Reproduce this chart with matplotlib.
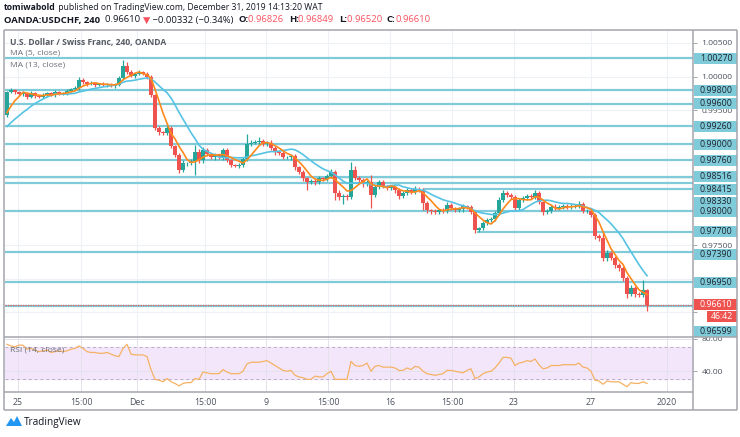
import numpy as np
import matplotlib.pyplot as plt
from matplotlib.patches import Rectangle, Polygon

plt.rcParams['font.family'] = ['Open Sans', 'DejaVu Sans']

# USDCHF 4h candles (OANDA), 25 Nov - 31 Dec 2019
first_open = 0.99431
closes = [
    0.99772, 0.99802, 0.99772, 0.99743, 0.99757, 0.99698, 0.99757, 0.99713, 0.99698, 0.99728,
    0.99757, 0.99728, 0.99772, 0.99743, 0.99757, 0.99787, 0.99817, 0.99832, 0.99950, 0.99921,
    0.99891, 0.99906, 0.99876, 0.99891, 0.99876, 0.99891, 0.99861, 0.99876, 0.99980, 1.00158,
    1.00069, 1.00010, 1.00040, 1.00069, 1.00040, 0.99995, 0.99728, 0.99238, 0.99178, 0.99163,
    0.99238, 0.98970, 0.98837, 0.98614, 0.98718, 0.98718, 0.98747, 0.98881, 0.98762, 0.98911,
    0.98851, 0.98807, 0.98837, 0.98807, 0.98911, 0.98762, 0.98688, 0.98673, 0.98688, 0.98777,
    0.99000, 0.99015, 0.99030, 0.99044, 0.99000, 0.99015, 0.98941, 0.98881, 0.98866, 0.98807,
    0.98807, 0.98822, 0.98658, 0.98584, 0.98495, 0.98436, 0.98450, 0.98436, 0.98495, 0.98480,
    0.98525, 0.98584, 0.98272, 0.98213, 0.98228, 0.98213, 0.98614, 0.98495, 0.98465, 0.98406,
    0.98436, 0.98242, 0.98361, 0.98436, 0.98376, 0.98346, 0.98361, 0.98317, 0.98228, 0.98272,
    0.98317, 0.98287, 0.98332, 0.98317, 0.98124, 0.98020, 0.98005, 0.97990, 0.98020, 0.98005,
    0.98094, 0.98049, 0.98020, 0.98035, 0.98079, 0.98064, 0.97990, 0.97723, 0.97752, 0.97827,
    0.97871, 0.97886, 0.97975, 0.98168, 0.98272, 0.98242, 0.98213, 0.98049, 0.98168, 0.98198,
    0.98228, 0.98213, 0.98272, 0.98139, 0.97990, 0.98005, 0.98064, 0.98049, 0.98064, 0.98079,
    0.98064, 0.98079, 0.98079, 0.98109, 0.98005, 0.98005, 0.97945, 0.97634, 0.97604, 0.97307,
    0.97381, 0.97307, 0.97203, 0.97158, 0.97010, 0.96772, 0.96861, 0.96772, 0.96757, 0.96826,
    0.96610]
# wick lengths in pips above / below the candle body
up_wick = [
    2, 3, 2, 2, 3, 2, 3, 2, 2, 3, 2, 2, 3, 2, 2, 3, 2, 3, 4, 3,
    2, 3, 2, 2, 3, 2, 2, 3, 3, 9, 6, 3, 2, 3, 2, 3, 3, 2, 3, 2,
    4, 3, 2, 3, 4, 2, 3, 10, 4, 4, 3, 2, 3, 2, 3, 3, 2, 2, 3, 3,
    15, 4, 3, 6, 3, 3, 4, 3, 2, 3, 2, 3, 3, 2, 3, 2, 3, 3, 3, 2,
    3, 4, 3, 4, 3, 3, 12, 6, 3, 3, 3, 10, 3, 3, 3, 2, 3, 2, 3, 3,
    3, 3, 4, 3, 3, 3, 2, 3, 2, 3, 4, 3, 2, 3, 3, 2, 3, 3, 2, 3,
    3, 3, 3, 4, 5, 3, 3, 3, 3, 3, 3, 3, 4, 3, 2, 3, 3, 4, 3, 3,
    3, 3, 3, 4, 3, 3, 3, 3, 3, 7, 4, 3, 3, 3, 3, 3, 4, 3, 3, 16,
    2.3]
down_wick = [
    3, 2, 3, 2, 3, 3, 2, 3, 2, 2, 3, 2, 3, 2, 2, 3, 2, 2, 3, 3,
    3, 2, 3, 2, 2, 3, 2, 3, 2, 3, 3, 2, 3, 2, 2, 3, 3, 3, 4, 3,
    3, 3, 3, 4, 3, 4, 3, 21, 4, 5, 3, 3, 4, 3, 4, 3, 3, 2, 3, 3,
    3, 3, 2, 3, 3, 3, 3, 4, 3, 3, 3, 4, 4, 3, 4, 12, 3, 4, 3, 3,
    3, 3, 10, 4, 10, 5, 3, 3, 3, 4, 3, 19, 3, 3, 3, 3, 3, 4, 4, 3,
    3, 3, 3, 3, 10, 4, 4, 3, 3, 3, 3, 3, 3, 3, 4, 3, 3, 4, 3, 3,
    3, 3, 3, 3, 3, 3, 3, 3, 3, 3, 3, 3, 3, 3, 4, 3, 3, 3, 3, 3,
    3, 3, 3, 3, 3, 3, 3, 4, 4, 4, 4, 3, 5, 4, 4, 6, 3, 4, 3, 3,
    9]
# closes just left of the visible window (only feed the moving averages)
warmup_closes = [0.9905, 0.9908, 0.9912, 0.9910, 0.9915, 0.9913, 0.9918, 0.9924,
                 0.9932, 0.9936, 0.9945, 0.9943]
rsi = [
    73, 71, 70, 72, 72, 67, 68, 66, 64, 65, 66, 63, 64, 65, 64, 65, 67, 68, 71, 68,
    64, 63, 63, 62, 62, 63, 61, 59, 58, 68, 73, 61, 60, 60, 60, 58, 42, 30, 29, 27,
    31, 27, 25, 22, 25, 26, 26, 31, 30, 39, 38, 37, 37, 37, 42, 39, 37, 37, 37, 40,
    49, 51, 51, 51, 52, 53, 50, 47, 44, 41, 40, 41, 35, 33, 32, 30, 30, 34, 33, 33,
    37, 40, 30, 30, 30, 30, 52, 47, 46, 47, 50, 40, 46, 47, 45, 45, 45, 44, 41, 41,
    44, 42, 46, 45, 40, 37, 36, 35, 36, 37, 41, 41, 40, 39, 38, 41, 43, 31, 33, 37,
    39, 40, 44, 50, 57, 57, 56, 47, 50, 51, 53, 52, 55, 48, 43, 44, 47, 47, 47, 48,
    48, 48, 48, 50, 45, 44, 40, 29, 28, 24, 28, 27, 27, 27, 24, 21, 26, 25, 25, 27,
    25]
levels = [1.00270, 0.99800, 0.99600, 0.99260, 0.99000, 0.98760, 0.98516, 0.98415,
          0.98330, 0.98000, 0.97700, 0.97390, 0.96950, 0.96599]
level_start = {0.98330: 104, 0.97700: 117.5}   # lines drawn from this bar onward
last_price = 0.96610
price_ticks = [0.965, 0.970, 0.975, 0.980, 0.985, 0.990, 0.995, 1.000, 1.005]
shown_ticks = [0.975, 0.995, 1.000, 1.005]      # the others sit under label boxes
tick_pos = [2.75, 18.5, 32.5, 49.5, 64.75, 80.25, 95.75, 111.25, 126.75, 146, 165]
tick_lab = ['25', '15:00', 'Dec', '15:00', '9', '15:00', '16', '15:00', '23', '27', '2020']

UP, DOWN = '#26a69a', '#ef5350'
LVL = '#80cbd9'
GRID = '#eef1f5'
TXT = '#4c525e'
W, H = 740, 437

c = np.array(closes)
o = np.concatenate([[first_open], c[:-1]])
hi = np.maximum(o, c) + np.array(up_wick) * 1e-4
lo = np.minimum(o, c) - np.array(down_wick) * 1e-4
x = np.arange(len(c))
n = len(c)
allc = np.array(warmup_closes + closes)
ma5 = np.convolve(allc, np.ones(5) / 5, 'valid')[-n:]
ma13 = np.convolve(allc, np.ones(13) / 13, 'valid')[-n:]

fig = plt.figure(figsize=(W / 100, H / 100), dpi=100, facecolor='white')
ax = fig.add_axes([5 / W, 1 - 337 / H, 688 / W, 307 / H])
ar = fig.add_axes([5 / W, 1 - 392 / H, 688 / W, 55 / H])

# ---- main pane
ax.set_xlim(-0.5, 171.5)
ax.set_ylim(0.96134, 1.00693)
for s in ax.spines.values():
    s.set_visible(False)
ax.yaxis.tick_right()
ax.set_yticks(price_ticks)
ax.set_yticklabels(['%.5f' % v if any(abs(v - t) < 1e-9 for t in shown_ticks) else ''
                    for v in price_ticks])
ax.tick_params(axis='y', length=3, width=0.6, color='#9598a1', labelsize=6.1,
               labelcolor=TXT, pad=3)
ax.set_xticks(tick_pos)
ax.tick_params(axis='x', length=0, labelbottom=False)
ax.grid(True, color=GRID, lw=0.8)
ax.set_axisbelow(True)

for lv in levels:
    ax.hlines(lv, level_start.get(lv, -0.5), 171.5, color=LVL, lw=1.6, zorder=2)
ax.axhline(last_price, color=DOWN, lw=0.9, ls=(0, (1, 1)), zorder=2)

cols = [UP if cc >= oo else DOWN for oo, cc in zip(o, c)]
ax.vlines(x, lo, hi, color=cols, lw=0.9, zorder=3)
body = np.maximum(np.abs(c - o), 0.00005)
ax.bar(x, body, bottom=np.minimum(o, c), width=0.8, color=cols, zorder=4)
ax.plot(x, ma13, color='#56c3e3', lw=1.2, zorder=5)
ax.plot(x, ma5, color='#ff8a1c', lw=1.2, zorder=5)

ax.text(5 / 688, 1 - 12 / 307, 'U.S. Dollar / Swiss Franc, 240, OANDA', transform=ax.transAxes,
        fontsize=6.1, fontweight='bold', color='#555a63', va='center')
ax.text(5 / 688, 1 - 23 / 307, 'MA (5, close)', transform=ax.transAxes,
        fontsize=6.1, color='#6b6f78', va='center')
ax.text(5 / 688, 1 - 35 / 307, 'MA (13, close)', transform=ax.transAxes,
        fontsize=6.1, color='#6b6f78', va='center')

# ---- RSI pane
ar.set_xlim(-0.5, 171.5)
ar.set_ylim(14.5, 82)
for s in ar.spines.values():
    s.set_visible(False)
ar.axhspan(30, 70, color='#f3e6fb', zorder=0)
ar.axhline(70, color='#b7aec6', lw=0.7, ls=(0, (3, 3)))
ar.axhline(30, color='#b7aec6', lw=0.7, ls=(0, (3, 3)))
ar.yaxis.tick_right()
ar.set_yticks([40, 80])
ar.set_yticklabels(['40.00', '80.00'])
ar.tick_params(axis='y', length=3, width=0.6, color='#9598a1', labelsize=6.1,
               labelcolor=TXT, pad=3)
ar.set_xticks(tick_pos)
ar.set_xticklabels(tick_lab)
ar.tick_params(axis='x', length=0, labelsize=6.3, labelcolor=TXT, pad=4)
ar.grid(True, color='#e4e0ec', lw=0.7)
ar.set_axisbelow(True)
ar.plot(x, rsi, color='#f5b264', lw=0.9, zorder=3)
ar.text(5 / 688, 1 - 13 / 55, 'RSI (14, close)', transform=ar.transAxes,
        fontsize=6.1, color='#6b6f78', va='center')

# ---- overlay in pixel coordinates: frame, price labels, header, logo
ov = fig.add_axes([0, 0, 1, 1], zorder=10)
ov.set_xlim(0, W)
ov.set_ylim(H, 0)
ov.axis('off')
ov.patch.set_alpha(0)

fc = '#a3a6ad'
for xs, ys in [([4, 737], [30, 30]), ([4, 737], [410, 410]), ([4, 4], [30, 410]),
               ([737, 737], [30, 410]), ([693, 693], [30, 410]),
               ([4, 737], [337, 337]), ([4, 693], [392, 392])]:
    ov.plot(xs, ys, color=fc, lw=1.1, solid_capstyle='butt')


def pix_y(p):
    return H - ax.transData.transform((0, p))[1]


label_y = {0.98415: 189, 0.98330: 202, 0.97390: 254.5, 0.96599: 331}
for lv in levels:
    yy = label_y.get(lv, pix_y(lv))
    ov.add_patch(Rectangle((694, yy - 5.5), 43, 11, fc=LVL, ec='none'))
    ov.text(700, yy, '%.5f' % lv, fontsize=6.3, color='#1e222d', va='center')
yy = pix_y(last_price)
ov.add_patch(Rectangle((694, yy - 5.5), 43, 11, fc=DOWN, ec='none'))
ov.text(700, yy, '%.5f' % last_price, fontsize=6.3, color='white', va='center')
ov.add_patch(Rectangle((707, yy + 6), 30, 11, fc=DOWN, ec='none'))
ov.text(711, yy + 11.5, '46:42', fontsize=6.3, color='white', va='center')

rend = fig.canvas.get_renderer()


def chain(parts, x0, y0, size):
    xx = x0
    for s, col, wt in parts:
        t = ov.text(xx, y0, s, fontsize=size, color=col, fontweight=wt, va='center')
        bb = t.get_window_extent(renderer=rend)
        xx += bb.width


chain([('tomiwabold', '#131722', 'bold'),
       (' published on TradingView.com, December 31, 2019 14:13:20 WAT', '#131722', 'normal')],
      4, 7, 6.2)
RED = '#f7525f'
chain([('OANDA:USDCHF, 240  ', '#131722', 'bold'), ('0.96610 ', '#131722', 'normal'),
       ('▼', RED, 'normal'), (' \u22120.00332 (\u22120.34%)  ', '#131722', 'normal'),
       ('O:', '#131722', 'bold'), ('0.96826  ', RED, 'normal'),
       ('H:', '#131722', 'bold'), ('0.96849  ', RED, 'normal'),
       ('L:', '#131722', 'bold'), ('0.96520  ', RED, 'normal'),
       ('C:', '#131722', 'bold'), ('0.96610', RED, 'normal')], 4, 20, 6.8)

# TradingView logo
ov.add_patch(Polygon([[6, 426], [11, 418], [14, 422], [17, 416], [22, 426]],
                     closed=True, fc='#2196f3', ec='none'))
ov.text(24, 422, 'TradingView', fontsize=7.2, color='#131722', va='center')

fig.savefig('out.png', dpi=100, facecolor='white')
